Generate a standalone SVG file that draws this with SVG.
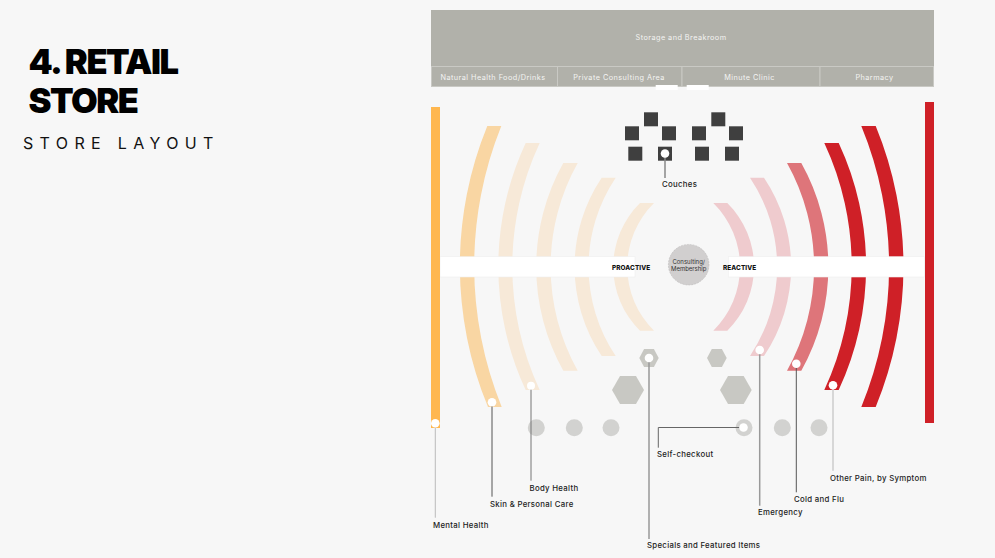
<svg xmlns="http://www.w3.org/2000/svg" width="995" height="558" viewBox="0 0 995 558">
<style>
.zone{fill:#b1b1aa;stroke:#c9c9c4;stroke-width:1}
.zt{font-family:"Inter","Liberation Sans",sans-serif;font-size:7.3px;fill:#f4f4f2;text-anchor:middle;letter-spacing:.45px}
.lb{font-family:"Inter","Liberation Sans",sans-serif;font-size:7.8px;font-weight:500;fill:#222;letter-spacing:.3px}
.hd{font-family:"Inter","Liberation Sans",sans-serif;font-size:6.4px;font-weight:800;fill:#111;letter-spacing:.1px}
.seat{fill:#3f3f3f}
.hex{fill:#c8c8c3}
.cir{fill:#d2d2d0}
.band{fill:#fff;stroke:#eeeeee;stroke-width:.6}
.dot{fill:#fff}
.c{fill:none}
.po{fill:#f7e9d8}.mo{fill:#f9d6a3}.pr{fill:#efcbce}.mr{fill:#de757a}.rd{fill:#cf2027}
</style>
<rect width="995" height="558" fill="#f7f7f7"/>
<g id="title">
<text x="28.500" y="74" font-family="Inter,'Liberation Sans',sans-serif" font-weight="900" font-size="34.500" fill="#000" letter-spacing="-1.500">4. RETAIL</text>
<text x="28.500" y="113" font-family="Inter,'Liberation Sans',sans-serif" font-weight="900" font-size="34.500" fill="#000" letter-spacing="-1.500">STORE</text>
<text x="23" y="149" font-family="Inter,'Liberation Sans',sans-serif" font-weight="400" font-size="16" fill="#111" letter-spacing="6.350">STORE LAYOUT</text>
</g>
<g id="storage"><rect x="431" y="10" width="503" height="56" fill="#b1b1aa"/><text class="zt" x="681" y="40">Storage and Breakroom</text></g>
<g id="natural-health"><rect class="zone" x="431.500" y="66.500" width="126" height="20"/><text class="zt" x="493" y="79.500">Natural Health Food/Drinks</text></g>
<g id="private-consulting"><rect class="zone" x="557.500" y="66.500" width="124.500" height="20"/><text class="zt" x="619" y="79.500">Private Consulting Area</text></g>
<g id="minute-clinic"><rect class="zone" x="682" y="66.500" width="138" height="20"/><text class="zt" x="749.500" y="79.500">Minute Clinic</text></g>
<g id="pharmacy"><rect class="zone" x="820" y="66.500" width="113.500" height="20"/><text class="zt" x="874.500" y="79.500">Pharmacy</text></g>
<g id="doors"><rect x="655.700" y="85" width="22" height="5" fill="#fff"/><rect x="686.700" y="85" width="22" height="5" fill="#fff"/></g>
<g id="arcs-left">
<path class="mo" d="M487.300 126A369 369 0 0 0 488 407H501.700A375 375 0 0 1 501.300 126Z"/>
<path class="po" d="M525.700 143A292 292 0 0 0 525.700 390H539.700A292 292 0 0 1 539.700 143Z"/>
<path class="po" d="M563.300 163A212.600 212.600 0 0 0 563.300 370.700H577.700A212.600 212.600 0 0 1 577.700 163Z"/>
<path class="po" d="M601.700 177.700A160 160 0 0 0 601.700 356H615.700A160 160 0 0 1 615.700 177.700Z"/>
<path class="po" d="M640 203A89.600 89.600 0 0 0 640 330.700H654A89.600 89.600 0 0 1 654 203Z"/>
</g>
<g id="arcs-right">
<path class="pr" d="M727.300 203A89.600 89.600 0 0 1 727.300 330.700H713.300A89.600 89.600 0 0 0 713.300 203Z"/>
<path class="pr" d="M764 177.700A160 160 0 0 1 764 356H750A160 160 0 0 0 750 177.700Z"/>
<path class="mr" d="M801.300 163A212.600 212.600 0 0 1 801.300 370.700H787A212.600 212.600 0 0 0 787 163Z"/>
<path class="rd" d="M838.700 143A292 292 0 0 1 838.700 390H824.300A292 292 0 0 0 824.300 143Z"/>
<path class="rd" d="M875.700 126A369 369 0 0 1 875.700 407H861.300A369 369 0 0 0 861.300 126Z"/>
</g>
<g id="proactive"><rect class="band" x="440" y="256.700" width="195" height="20.300"/><text class="hd" x="612" y="270">PROACTIVE</text></g>
<g id="reactive"><rect class="band" x="728.300" y="256.700" width="196" height="20.300"/><text class="hd" x="723" y="270">REACTIVE</text></g>
<g id="mental-health-bar"><rect x="431" y="107" width="9" height="321" fill="#ffb74f"/></g>
<g id="other-pain-bar"><rect x="925" y="102" width="9" height="321" fill="#cf2027"/></g>
<g id="consulting"><circle cx="688.700" cy="264.700" r="20.300" fill="#d1cfcf" stroke="#b5b3b3" stroke-width=".5" stroke-dasharray="2 1"/>
<text font-family="Inter,'Liberation Sans',sans-serif" font-size="6" fill="#333" text-anchor="middle"><tspan x="688.700" y="264">Consulting/</tspan><tspan x="688.700" y="270.500">Membership</tspan></text></g>
<g id="couches">
<rect class="seat" x="644" y="112.300" width="14" height="14"/><rect class="seat" x="625" y="126.300" width="14" height="14"/><rect class="seat" x="662" y="126.300" width="14" height="14"/><rect class="seat" x="628.300" y="146.700" width="14" height="14"/><rect class="seat" x="658" y="146.700" width="14" height="14"/>
<rect class="seat" x="711.300" y="112.300" width="14" height="14"/><rect class="seat" x="692" y="126.300" width="14" height="14"/><rect class="seat" x="729" y="126.300" width="14" height="14"/><rect class="seat" x="695" y="146.700" width="14" height="14"/><rect class="seat" x="725" y="146.700" width="14" height="14"/>
</g>
<g id="featured-displays">
<path class="hex" d="M639.300 358l4.800-9h9.800l4.800 9-4.800 9h-9.800z"/>
<path class="hex" d="M707 358l4.800-9h10.100l4.800 9-4.800 9h-10.100z"/>
<path class="hex" d="M612 390l8-14h16l8 14-8 14h-16z"/>
<path class="hex" d="M720 390l8-14h15.700l8 14-8 14h-15.700z"/>
</g>
<g id="checkout">
<circle class="cir" cx="536.300" cy="427.700" r="8.500"/><circle class="cir" cx="574.300" cy="427.700" r="8.500"/><circle class="cir" cx="611" cy="427.700" r="8.500"/>
<circle class="cir" cx="744" cy="427.700" r="8.500"/><circle class="cir" cx="782.300" cy="427.700" r="8.500"/><circle class="cir" cx="819" cy="427.700" r="8.500"/>
</g>
<g id="connectors" class="c">
<path d="M665 153.500V178" stroke="#888" stroke-width="1.500"/>
<path d="M435.300 423V517.700" stroke="#bbb" stroke-width="1"/>
<path d="M492 402V496.700" stroke="#555" stroke-width="1"/>
<path d="M531 386V480.700" stroke="#777" stroke-width="1"/>
<path d="M649 358V539" stroke="#999" stroke-width="1.500"/>
<path d="M743 427.500H658.300V447.700" stroke="#666" stroke-width="1"/>
<path d="M759.700 350V505.700" stroke="#999" stroke-width="1.500"/>
<path d="M796.300 364V492.300" stroke="#555" stroke-width="1"/>
<path d="M833 385V470.700" stroke="#ccc" stroke-width="1.500"/>
<circle class="dot" cx="665" cy="153.500" r="4.300"/>
<circle class="dot" cx="435.300" cy="423.300" r="4.300"/>
<circle class="dot" cx="492" cy="402.300" r="4.300"/>
<circle class="dot" cx="531" cy="385.700" r="4"/>
<circle class="dot" cx="649" cy="358" r="4.300"/>
<circle class="dot" cx="743.500" cy="427.500" r="4.300"/>
<circle class="dot" cx="759.700" cy="350" r="4.300"/>
<circle class="dot" cx="796.300" cy="363.700" r="4.300"/>
<circle class="dot" cx="833" cy="385.300" r="4.300"/>
</g>
<g id="labels">
<text class="lb" x="662" y="187">Couches</text>
<text class="lb" x="433" y="528">Mental Health</text>
<text class="lb" x="490" y="507">Skin &amp; Personal Care</text>
<text class="lb" x="529.500" y="491">Body Health</text>
<text class="lb" x="647" y="548">Specials and Featured Items</text>
<text class="lb" x="657" y="456.500">Self-checkout</text>
<text class="lb" x="758" y="515">Emergency</text>
<text class="lb" x="794" y="502">Cold and Flu</text>
<text class="lb" x="830" y="481">Other Pain, by Symptom</text>
</g>
</svg>
